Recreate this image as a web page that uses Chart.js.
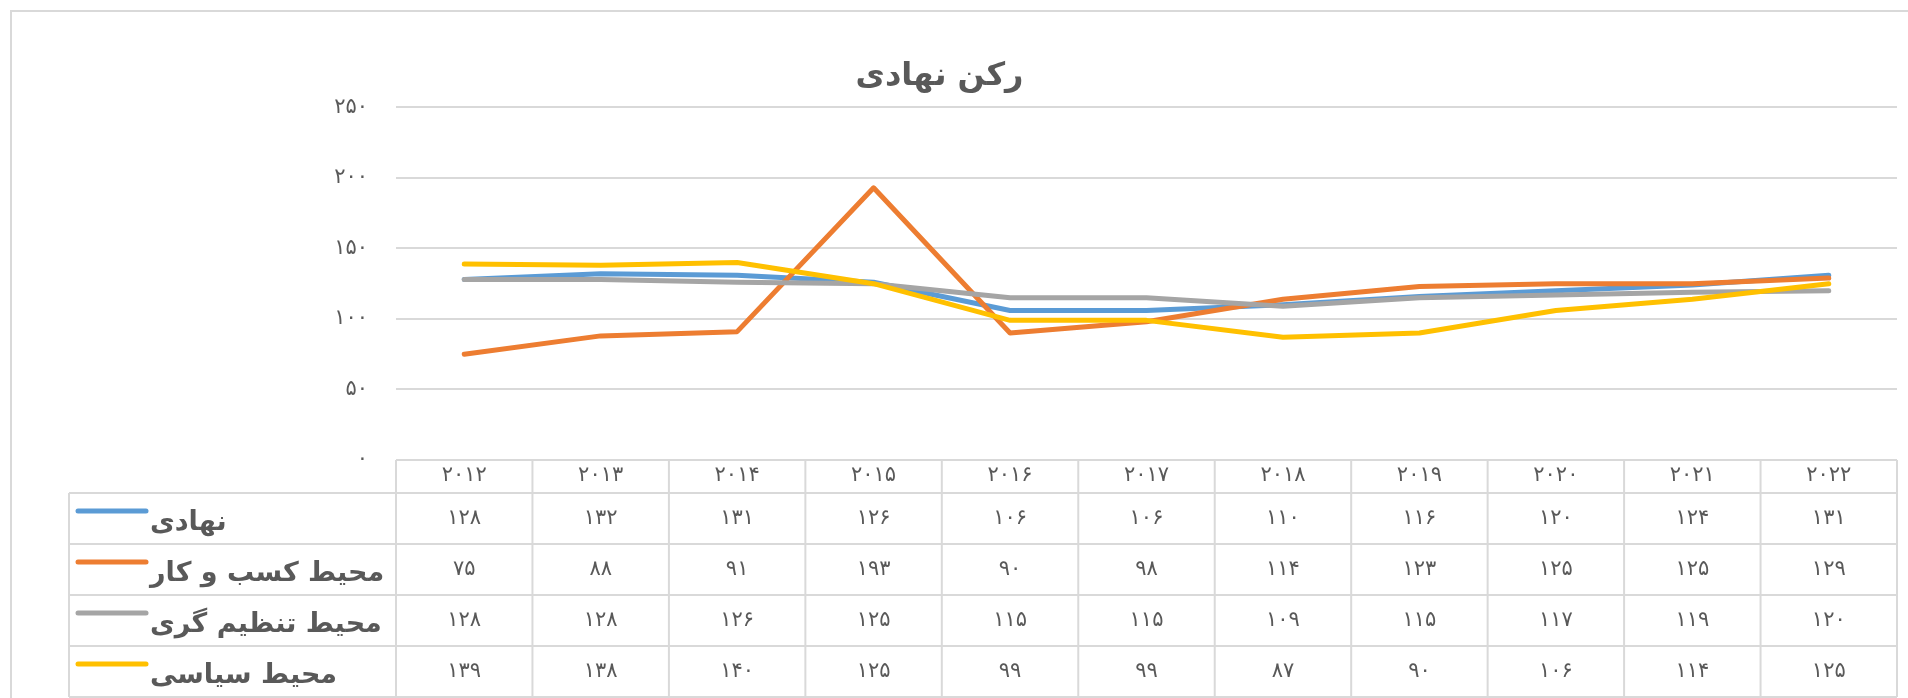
<!DOCTYPE html>
<html>
<head>
<meta charset="utf-8">
<script src="https://cdn.jsdelivr.net/npm/chart.js@4/dist/chart.umd.min.js"></script>
<style>
  html, body { margin: 0; padding: 0; background: #ffffff; }
  #wrap { width: 1908px; height: 698px; position: relative; }
</style>
</head>
<body>
<div id="wrap"><canvas id="c" width="1908" height="698"></canvas></div>
<script>
// ---- data ----
const categories = ['2012', '2013', '2014', '2015', '2016', '2017', '2018', '2019', '2020', '2021', '2022'];
const seriesNames = ['نهادی', 'محیط کسب و کار', 'محیط تنظیم گری', 'محیط سیاسی'];
const nahadi     = [128, 132, 131, 126, 106, 106, 110, 116, 120, 124, 131];
const kasbOKar   = [75, 88, 91, 193, 90, 98, 114, 123, 125, 125, 129];
const tanzimGari = [128, 128, 126, 125, 115, 115, 109, 115, 117, 119, 120];
const siasi      = [139, 138, 140, 125, 99, 99, 87, 90, 106, 114, 125];
const yTicks = [0, 50, 100, 150, 200, 250];
const chartTitle = 'رکن نهادی';
const seriesColors = ['#5B9BD5', '#ED7D31', '#A5A5A5', '#FFC000'];

const seriesValues = [nahadi, kasbOKar, tanzimGari, siasi];

const faDigits = ['۰','۱','۲','۳','۴','۵','۶','۷','۸','۹'];
function toFa(v) { return String(v).replace(/[0-9]/g, d => faDigits[+d]); }

const TEXT = '#595959';
const LINE = '#d9d9d9';
const FONT = 'DejaVu Sans';

const HEADER_H = 33;
const ROW_H = 51;
const TABLE_LEFT = 69;

const frameAndTable = {
  id: 'frameAndTable',
  afterLayout(chart) {
    if (chart.titleBlock) {
      chart.titleBlock.left -= 9;
      chart.titleBlock.right -= 9;
    }
  },
  beforeDraw(chart) {
    const ctx = chart.ctx;
    ctx.save();
    ctx.fillStyle = '#ffffff';
    ctx.fillRect(0, 0, chart.width, chart.height);
    ctx.strokeStyle = LINE;
    ctx.lineWidth = 2;
    ctx.beginPath();
    ctx.moveTo(11, chart.height + 5);
    ctx.lineTo(11, 11);
    ctx.lineTo(chart.width + 5, 11);
    ctx.stroke();
    ctx.restore();
  },
  afterDraw(chart) {
    const ctx = chart.ctx;
    const xs = chart.scales.x;
    const area = chart.chartArea;
    const n = categories.length;
    const colW = xs.getPixelForValue(1) - xs.getPixelForValue(0);
    const left = xs.getPixelForValue(0) - colW / 2;
    const right = xs.getPixelForValue(n - 1) + colW / 2;
    const top = area.bottom;
    const rowsTop = top + HEADER_H;
    const bottom = rowsTop + ROW_H * seriesNames.length;

    ctx.save();
    ctx.strokeStyle = LINE;
    ctx.lineWidth = 2;
    ctx.beginPath();
    ctx.moveTo(left, top); ctx.lineTo(right, top);
    for (let r = 0; r <= seriesNames.length; r++) {
      const y = rowsTop + r * ROW_H;
      ctx.moveTo(TABLE_LEFT, y); ctx.lineTo(right, y);
    }
    ctx.moveTo(TABLE_LEFT, rowsTop); ctx.lineTo(TABLE_LEFT, bottom);
    for (let i = 0; i <= n; i++) {
      const x = left + i * colW;
      ctx.moveTo(x, top); ctx.lineTo(x, bottom);
    }
    ctx.stroke();

    // legend keys and names
    for (let r = 0; r < seriesNames.length; r++) {
      const y0 = rowsTop + r * ROW_H;
      ctx.strokeStyle = seriesColors[r];
      ctx.lineWidth = 5;
      ctx.lineCap = 'round';
      ctx.beginPath();
      ctx.moveTo(TABLE_LEFT + 9, y0 + 18);
      ctx.lineTo(TABLE_LEFT + 77, y0 + 18);
      ctx.stroke();

      ctx.fillStyle = TEXT;
      ctx.font = 'bold 27px "' + FONT + '"';
      ctx.direction = 'rtl';
      ctx.textAlign = 'left';
      ctx.textBaseline = 'middle';
      ctx.fillText(seriesNames[r], TABLE_LEFT + 81, y0 + ROW_H / 2 + 4);
    }

    // values
    ctx.direction = 'ltr';
    ctx.font = '21px "' + FONT + '"';
    ctx.textAlign = 'center';
    ctx.textBaseline = 'middle';
    ctx.fillStyle = TEXT;
    for (let r = 0; r < seriesValues.length; r++) {
      const yc = rowsTop + r * ROW_H + ROW_H / 2;
      seriesValues[r].forEach((v, i) => {
        ctx.fillText(toFa(v), xs.getPixelForValue(i), yc);
      });
    }
    ctx.restore();
  }
};

const datasets = seriesNames.map((name, i) => ({
  label: name,
  data: seriesValues[i],
  borderColor: seriesColors[i],
  backgroundColor: seriesColors[i],
  borderWidth: 5,
  pointRadius: 0,
  pointHoverRadius: 0,
  tension: 0,
  fill: false,
  borderCapStyle: 'round',
  borderJoinStyle: 'round',
  order: seriesNames.length - i
}));

new Chart(document.getElementById('c'), {
  type: 'line',
  data: { labels: categories, datasets },
  options: {
    responsive: false,
    devicePixelRatio: 1,
    animation: false,
    layout: { padding: { left: 0, right: 11, top: 0, bottom: 0 } },
    plugins: {
      legend: { display: false },
      tooltip: { enabled: false },
      title: {
        display: true,
        text: chartTitle,
        color: TEXT,
        font: { family: FONT, size: 32, weight: 'bold' },
        padding: { top: 57, bottom: 12 }
      }
    },
    scales: {
      x: {
        type: 'category',
        offset: true,
        grid: { display: false, drawTicks: false },
        border: { display: false },
        ticks: {
          color: TEXT,
          font: { family: FONT, size: 21 },
          padding: 3,
          maxRotation: 0,
          autoSkip: false,
          callback: function (v, i) { return toFa(categories[i]); }
        },
        afterFit: (axis) => { axis.height = 238; }
      },
      y: {
        min: 0,
        max: 250,
        afterBuildTicks: (axis) => { axis.ticks = yTicks.map(v => ({ value: v })); },
        grid: { color: LINE, lineWidth: 2, drawTicks: false },
        border: { display: false },
        ticks: {
          color: TEXT,
          font: { family: FONT, size: 21 },
          padding: 28,
          callback: (v) => toFa(v)
        },
        afterFit: (axis) => { axis.width = 396; }
      }
    }
  },
  plugins: [frameAndTable]
});
</script>
</body>
</html>
